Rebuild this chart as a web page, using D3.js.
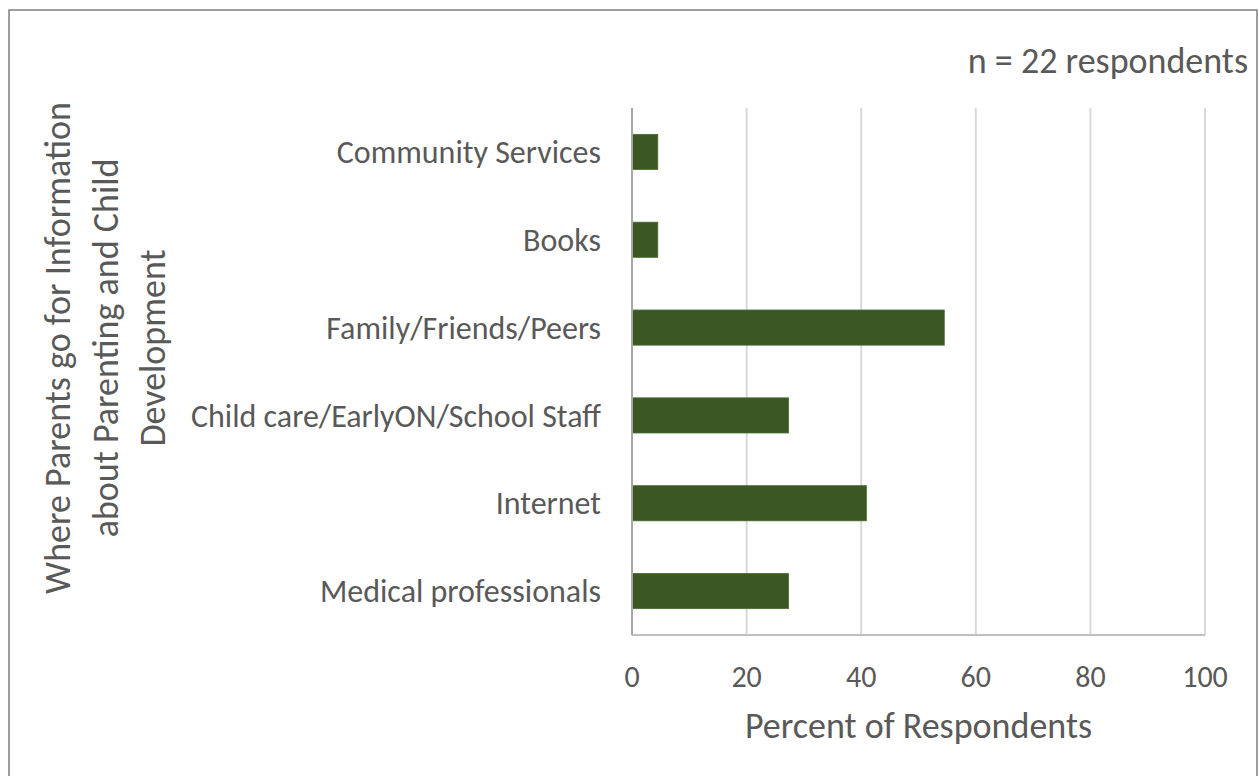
<!DOCTYPE html>
<html>
  <head>
    <script src="https://cdn.jsdelivr.net/npm/d3@7"></script>
    <style>
      body { margin: 0; background: #fff; }
      text { font-family: Carlito, 'Open Sans', sans-serif; fill: #595959; }
    </style>
  </head>
  <body>
    <svg></svg>
<script>
// categories top to bottom, values are % of 22 respondents
const categories = ['Community Services', 'Books', 'Family/Friends/Peers',
                    'Child care/EarlyON/School Staff', 'Internet', 'Medical professionals'];
const percents = [4.5, 4.5, 54.5, 27.3, 40.9, 27.3];
const xTicks = [0, 20, 40, 60, 80, 100];
const yTitleLines = ['Where Parents go for Information', 'about Parenting and Child', 'Development'];

const width = 1259, height = 776,
    plot = { left: 632, right: 1205, top: 108, bottom: 635 };

const svg = d3.select('svg').attr('width', width).attr('height', height);

// outer frame (bottom edge runs off the picture)
svg.append('rect')
    .attr('x', 9).attr('y', 10)
    .attr('width', 1248).attr('height', 800)
    .attr('fill', 'none').attr('stroke', '#7f7f7f').attr('stroke-width', 1.5);

const x = d3.scaleLinear().domain([0, 100]).range([plot.left, plot.right]);
const y = d3.scaleBand().domain(categories).range([plot.top, plot.bottom])
    .paddingInner(0.6).paddingOuter(0.3);

// vertical gridlines
svg.append('g').selectAll('line')
    .data(xTicks.slice(1))
    .join('line')
    .attr('x1', d => x(d)).attr('x2', d => x(d))
    .attr('y1', plot.top).attr('y2', plot.bottom)
    .attr('stroke', '#d9d9d9').attr('stroke-width', 2);

// bars
svg.append('g').selectAll('rect')
    .data(categories)
    .join('rect')
    .attr('x', x(0))
    .attr('y', d => y(d))
    .attr('width', (d, i) => x(percents[i]) - x(0))
    .attr('height', y.bandwidth())
    .attr('fill', '#3b5723')
    .attr('stroke', '#4a6a30').attr('stroke-width', 0.8);

// axis lines
svg.append('line')
    .attr('x1', plot.left).attr('x2', plot.right)
    .attr('y1', plot.bottom).attr('y2', plot.bottom)
    .attr('stroke', '#bfbfbf').attr('stroke-width', 2);
svg.append('line')
    .attr('x1', plot.left).attr('x2', plot.left)
    .attr('y1', plot.top).attr('y2', plot.bottom)
    .attr('stroke', '#a6a6a6').attr('stroke-width', 2);

// tick labels
svg.append('g').selectAll('text')
    .data(xTicks)
    .join('text')
    .attr('x', d => x(d))
    .attr('y', 687)
    .attr('text-anchor', 'middle')
    .attr('font-size', '30px')
    .text(d => d);

// category labels
svg.append('g').selectAll('text')
    .data(categories)
    .join('text')
    .attr('x', plot.left - 31)
    .attr('y', d => y(d) + y.bandwidth() / 2)
    .attr('dy', '0.35em')
    .attr('text-anchor', 'end')
    .attr('font-size', '32px')
    .text(d => d);

// axis titles
svg.append('text')
    .attr('x', (plot.left + plot.right) / 2)
    .attr('y', 738)
    .attr('text-anchor', 'middle')
    .attr('font-size', '36px')
    .text('Percent of Respondents');

svg.append('g')
    .attr('transform', 'translate(70,348) rotate(-90)')
    .selectAll('text')
    .data(yTitleLines)
    .join('text')
    .attr('x', 0)
    .attr('y', (d, i) => i * 47.5)
    .attr('text-anchor', 'middle')
    .attr('font-size', '36px')
    .text(d => d);

svg.append('text')
    .attr('x', 1248).attr('y', 73)
    .attr('text-anchor', 'end')
    .attr('font-size', '36px')
    .text('n = 22 respondents');
</script>
  </body>
</html>
